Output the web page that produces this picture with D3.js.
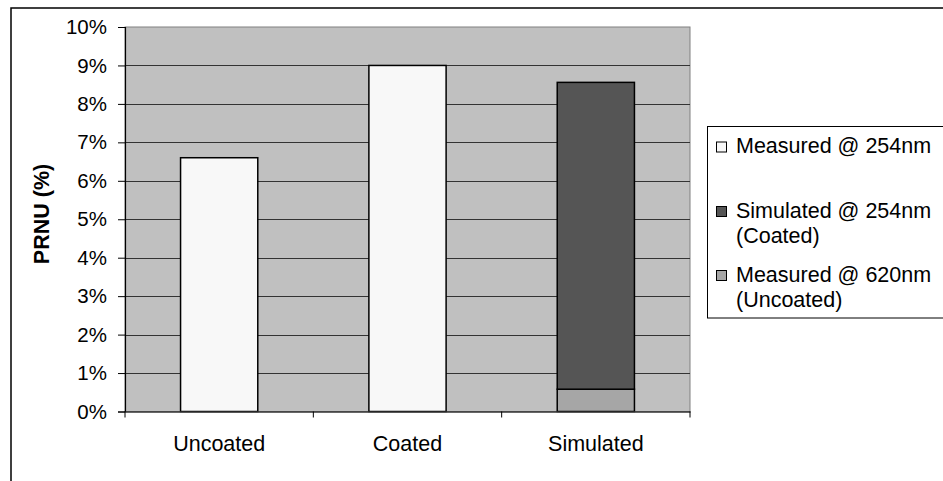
<!DOCTYPE html>
<html><head><meta charset="utf-8">
<script src="https://cdn.jsdelivr.net/npm/d3@7"></script>
<style>body{margin:0;background:#fff}svg{display:block;font-family:"Liberation Sans",Arial,sans-serif}</style>
</head><body>
<script>
const categories = ["Uncoated", "Coated", "Simulated"];
const measured254 = [6.6, 9.0, 0];
const measured620 = [0, 0, 0.58];
const simulated254 = [0, 0, 7.98];
const yTicks = [0,1,2,3,4,5,6,7,8,9,10];
const seriesNames = ["Measured @ 254nm", "Simulated @ 254nm|(Coated)", "Measured @ 620nm|(Uncoated)"];

const W = 943, H = 481;
const svg = d3.select("body").append("svg").attr("width", W).attr("height", H);
const m = {left:125, top:27, right:690, bottom:411.5};

svg.append("rect").attr("x",11).attr("y",8).attr("width",1000).attr("height",600)
  .attr("fill","#fff").attr("stroke","#000").attr("stroke-width",1.5);

const x = d3.scaleBand().domain(categories).range([m.left, m.right]).paddingInner(0.59).paddingOuter(0.295);
const y = d3.scaleLinear().domain([0,10]).range([m.bottom, m.top]);

svg.append("rect").attr("x",m.left).attr("y",m.top).attr("width",m.right-m.left).attr("height",m.bottom-m.top)
  .attr("fill","#c0c0c0").attr("stroke","#808080").attr("stroke-width",1);

svg.append("g").selectAll("line").data(yTicks.filter(d=>d>0 && d<10)).join("line")
  .attr("x1",m.left).attr("x2",m.right).attr("y1",d=>Math.round(y(d))+0.5).attr("y2",d=>Math.round(y(d))+0.5)
  .attr("stroke","#333").attr("stroke-width",1);

const rows = categories.map((c,i)=>({cat:c, m254:measured254[i], m620:measured620[i], s254:simulated254[i]}));
const keys = ["m254","m620","s254"];
const colors = {m254:"#f8f8f8", s254:"#555555", m620:"#a6a6a6"};
const stack = d3.stack().keys(keys)(rows);
svg.append("g").selectAll("g").data(stack).join("g").attr("fill",d=>colors[d.key])
  .selectAll("rect").data(d=>d.filter(p=>p[1]-p[0]>0)).join("rect")
  .attr("x",d=>x(d.data.cat)).attr("width",x.bandwidth())
  .attr("y",d=>y(d[1])).attr("height",d=>y(d[0])-y(d[1]))
  .attr("stroke","#000").attr("stroke-width",1.5);

const ya = svg.append("g").attr("transform",`translate(${m.left},0)`)
  .call(d3.axisLeft(y).tickValues(yTicks).tickFormat(d=>d+"%").tickSize(7).tickPadding(11));
ya.select(".domain").attr("stroke","#000").attr("stroke-width",1.2);
ya.selectAll("line").attr("stroke","#000");
ya.selectAll("text").attr("font-size",20.5).attr("fill","#000").attr("font-family","Liberation Sans, Arial, sans-serif");

const xa = svg.append("g").attr("transform",`translate(0,${m.bottom})`)
  .call(d3.axisBottom(x).tickSize(0).tickPadding(24));
xa.select(".domain").attr("stroke","#333").attr("stroke-width",1.5);
xa.selectAll("text").attr("font-size",21.5).attr("fill","#000").attr("font-family","Liberation Sans, Arial, sans-serif");
svg.append("g").selectAll("line").data(d3.range(categories.length+1)).join("line")
  .attr("x1",i=>m.left+i*(m.right-m.left)/categories.length).attr("x2",i=>m.left+i*(m.right-m.left)/categories.length)
  .attr("y1",m.bottom).attr("y2",m.bottom+6).attr("stroke","#000");

svg.append("text").attr("transform","translate(49,214) rotate(-90)").attr("text-anchor","middle")
  .attr("font-size",21.5).attr("font-weight","bold").text("PRNU (%)");

const lg = svg.append("g");
lg.append("rect").attr("x",707.5).attr("y",126.5).attr("width",300).attr("height",191.5)
  .attr("fill","#fff").attr("stroke","#000").attr("stroke-width",1);
const legKeys = ["m254","s254","m620"];
const legY = [153, 217.5, 281.5];
legKeys.forEach((k,i)=>{
  lg.append("rect").attr("x",716.5).attr("y",legY[i]-11).attr("width",10).attr("height",10)
    .attr("fill",colors[k]).attr("stroke","#000").attr("stroke-width",1);
  const lines = seriesNames[i].split("|");
  lines.forEach((t,j)=>{
    lg.append("text").attr("x",736).attr("y",legY[i]+j*25.5).attr("font-size",21.5).text(t);
  });
});
</script>
</body></html>
